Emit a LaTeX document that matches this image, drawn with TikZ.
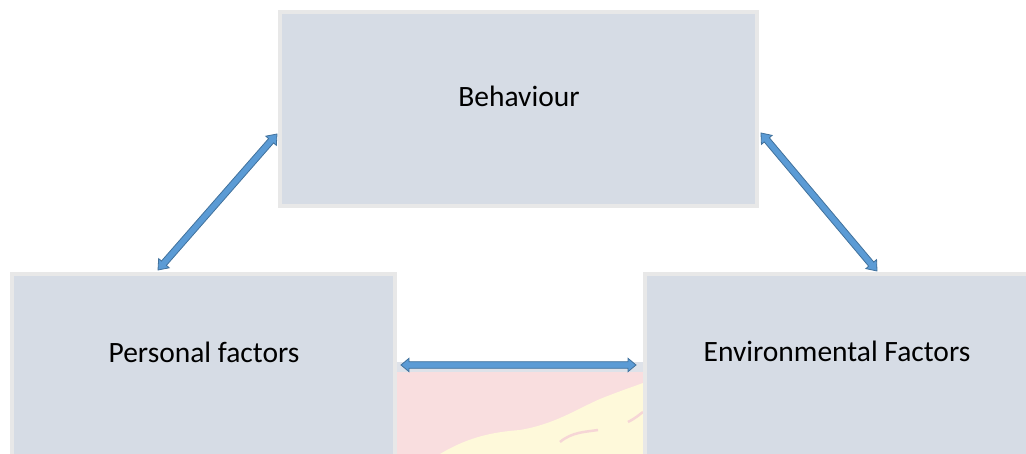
\documentclass[tikz,border=0pt]{standalone}
\usepackage{fontspec}
\setmainfont{Carlito}
\usetikzlibrary{calc}
\definecolor{boxfill}{HTML}{D6DCE5}
\definecolor{boxline}{HTML}{E8E8E8}
\definecolor{arrowfill}{HTML}{5B9BD5}
\definecolor{arrowline}{HTML}{41719C}
\definecolor{wmpink}{HTML}{F9DEDF}
\definecolor{wmyellow}{HTML}{FEF9DA}
\definecolor{wmgray}{HTML}{DEE2E9}
\definecolor{wmline}{HTML}{F6D6D6}
\tikzset{
  box/.style={draw=boxline, fill=boxfill, line width=4pt, inner sep=0pt, outer sep=0pt},
  boxtext/.style={anchor=base, font=\fontsize{29.5}{34}\selectfont, text=black, inner sep=0pt},
  blockarrow/.style={draw=arrowline, fill=arrowfill, line width=0.8pt, line join=miter},
}
\newcommand\dblarrow[5]{% from, to, shaft half width, head half width, head length
  \path[blockarrow] let \p1=(#1), \p2=(#2),
    \n1={atan2(\y2-\y1,\x2-\x1)}, \n2={veclen(\x2-\x1,\y2-\y1)} in
    [shift={(\p1)}, rotate=\n1]
    (0,0) -- (#5,#4) -- (#5,#3) -- (\n2-#5,#3) -- (\n2-#5,#4) -- (\n2,0)
    -- (\n2-#5,-#4) -- (\n2-#5,-#3) -- (#5,-#3) -- (#5,-#4) -- cycle;
}
\begin{document}
\begin{tikzpicture}[x=1pt,y=1pt]
\useasboundingbox (0,0) rectangle (1026,454);
\clip (0,0) rectangle (1026,454);
% faint watermark between the lower boxes
\fill[wmgray] (397,82) rectangle (643,92);
\fill[wmpink] (397,0) rectangle (643,82);
\fill[wmyellow] (440,0) .. controls (470,18) and (495,22) .. (520,24)
  .. controls (555,30) and (575,44) .. (600,55)
  .. controls (620,63) and (635,68) .. (643,71) -- (643,0) -- cycle;
\draw[wmline, line width=2.5pt] (560,12) .. controls (572,22) and (585,22) .. (598,24);
\draw[wmline, line width=2.5pt] (628,32) .. controls (636,36) and (640,40) .. (643,42);
% boxes
\node[box, minimum width=477pt, minimum height=194pt] (bbox) at (518.5,345) {};
\node[box, minimum width=383pt, minimum height=206pt] (pbox) at (203.5,77) {};
\node[box, minimum width=400pt, minimum height=206pt] (ebox) at (845,77) {};
\node[boxtext] (btext) at (519,347) {Behaviour};
\node[boxtext] (ptext) at (204,91) {Personal factors};
\node[boxtext] (etext) at (837,92) {Environmental Factors};
% arrow end points on the box edges
\coordinate (l1) at (277,320);
\coordinate (l2) at (158,184);
\coordinate (r1) at (761,321);
\coordinate (r2) at (877,183);
\coordinate (h1) at (401,89);
\coordinate (h2) at (636,89);
\dblarrow{l1}{l2}{3.3}{7}{9}
\dblarrow{r1}{r2}{3.3}{7}{9}
\dblarrow{h1}{h2}{3.3}{6.7}{8}
\end{tikzpicture}
\end{document}
